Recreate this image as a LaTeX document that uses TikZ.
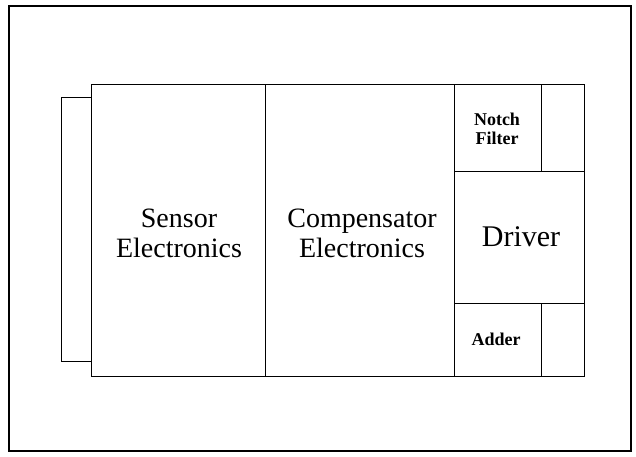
\documentclass[tikz,border=0pt]{standalone}
\usepackage{fontspec}
\setmainfont{Liberation Serif}
\begin{document}
\begin{tikzpicture}[x=1pt,y=-1pt,
  blk/.style={draw=black,line width=0.9pt,inner sep=0pt,outer sep=0pt,align=center},
  bigtxt/.style={font=\fontsize{28}{30}\selectfont},
  smalltxt/.style={font=\fontsize{18}{19.5}\selectfont\bfseries}]
\useasboundingbox (0,0) rectangle (636,456);
\node[blk,line width=1.6pt,minimum width=622pt,minimum height=445pt] (frame) at (320,228.5) {};
\node[blk,minimum width=30pt,minimum height=264pt] (tab) at (76,229) {};
\node[blk,bigtxt,minimum width=174pt,minimum height=292pt] (sensor) at (178,230) {};
\node[bigtxt,align=center] (sensortxt) at (179,233) {Sensor\\Electronics};
\node[blk,minimum width=189pt,minimum height=292pt] (comp) at (359.5,230) {};
\node[bigtxt,align=center] (comptxt) at (362,233) {Compensator\\Electronics};
\node[blk,minimum width=87pt,minimum height=87pt] (notch) at (497.5,127.5) {};
\node[smalltxt,align=center] (notchtxt) at (497,129) {Notch\\Filter};
\node[blk,minimum width=43pt,minimum height=87pt] (notchside) at (562.5,127.5) {};
\node[blk,font=\fontsize{30}{32}\selectfont,minimum width=130pt,minimum height=132pt] (driver) at (519,237) {};
\node[font=\fontsize{30}{32}\selectfont] (drivertxt) at (521,237) {Driver};
\node[blk,minimum width=87pt,minimum height=73pt] (adder) at (497.5,339.5) {};
\node[smalltxt] (addertxt) at (496,339) {Adder};
\node[blk,minimum width=43pt,minimum height=73pt] (adderside) at (562.5,339.5) {};
\end{tikzpicture}
\end{document}
